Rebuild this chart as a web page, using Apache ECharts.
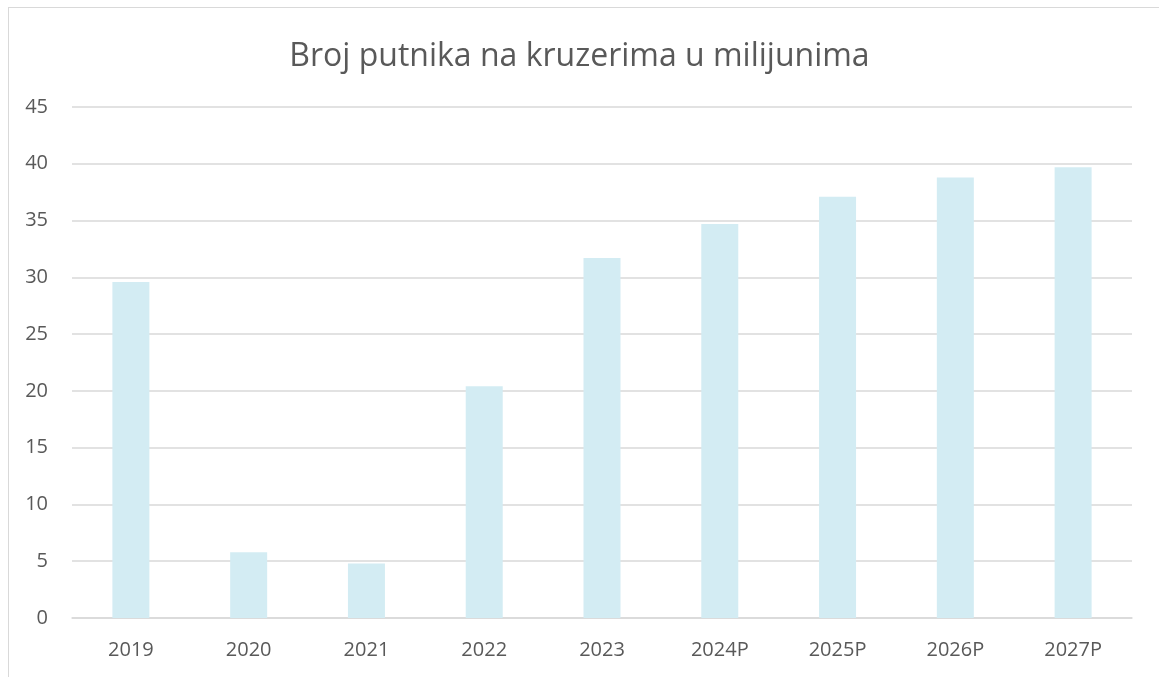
<!DOCTYPE html>
<html><head><meta charset="utf-8">
<script src="https://cdn.jsdelivr.net/npm/echarts@6/dist/echarts.min.js"></script>
<style>html,body{margin:0;padding:0;background:#fff;}#frame{position:absolute;left:8px;top:7px;width:1160px;height:680px;border:1px solid #d9d9d9;box-sizing:border-box;}#c{position:absolute;left:0;top:0;width:1159px;height:677px;}</style>
</head><body>
<div id="frame"></div>
<div id="c"></div>
<script>
const titleText = "Broj putnika na kruzerima u milijunima";
const categories = ["2019","2020","2021","2022","2023","2024P","2025P","2026P","2027P"];
const passengers = [29.6, 5.8, 4.8, 20.4, 31.7, 34.7, 37.1, 38.8, 39.7];

const chart = echarts.init(document.getElementById('c'));
chart.setOption({
  backgroundColor: 'transparent',
  animation: false,
  title: {
    text: titleText, left: 'center', top: 36,
    textStyle: { fontFamily: 'Open Sans', fontWeight: 'normal', fontSize: 32, color: '#595959' }
  },
  grid: { left: 72, right: 27, top: 107, bottom: 59, containLabel: false },
  xAxis: {
    type: 'category', data: categories,
    axisLine: { show: true, lineStyle: { color: '#d9d9d9', width: 1.5 } },
    axisTick: { show: false },
    axisLabel: { color: '#595959', fontFamily: 'Open Sans', fontSize: 20, margin: 22 }
  },
  yAxis: {
    type: 'value', min: 0, max: 45, interval: 5,
    axisLine: { show: false }, axisTick: { show: false },
    splitLine: { lineStyle: { color: '#d9d9d9', width: 1.5 } },
    axisLabel: { color: '#595959', fontFamily: 'Open Sans', fontSize: 20, margin: 24 }
  },
  series: [{
    type: 'bar', data: passengers, barWidth: 37,
    itemStyle: { color: '#d3ecf3' }
  }]
});
</script>
</body></html>
